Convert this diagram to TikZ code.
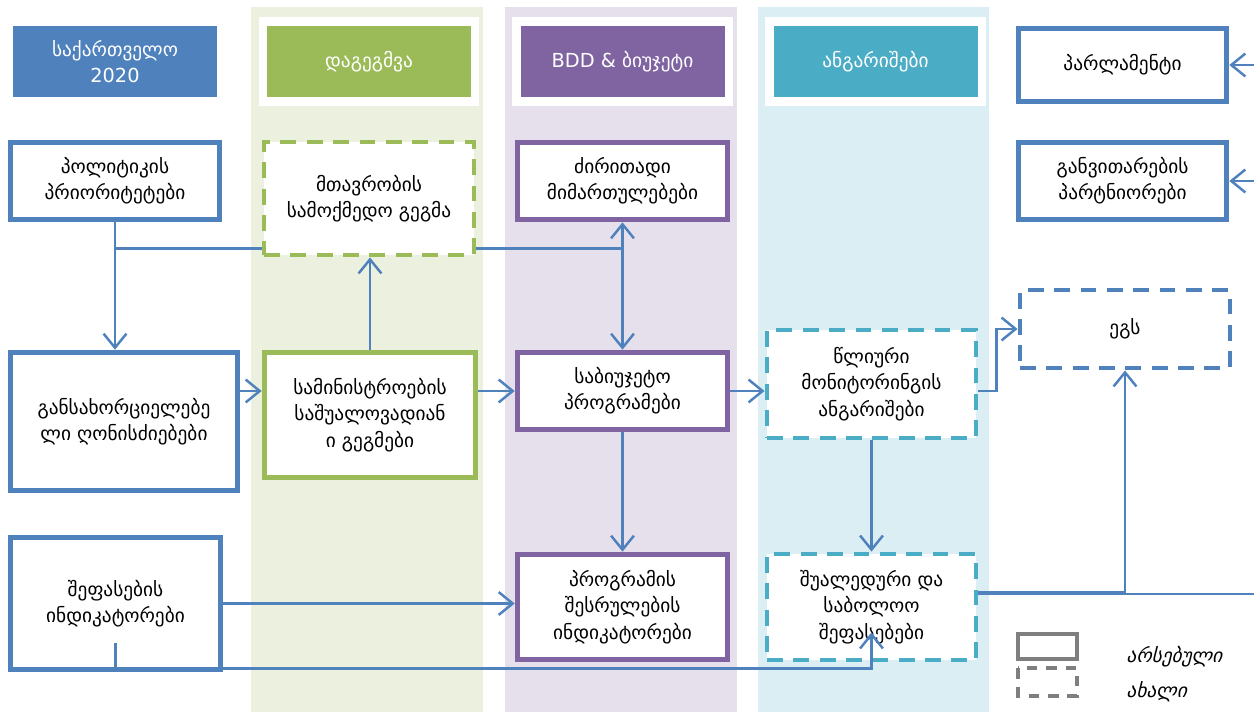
\documentclass[tikz,border=0pt]{standalone}
\usepackage{fontspec}
\setmainfont{DejaVu Sans}
\newfontfamily\legendfont{DejaVu Sans}[FakeSlant=0.25]
\usetikzlibrary{arrows.meta,calc}

\definecolor{geoblue}{HTML}{4F81BD}
\definecolor{plangreen}{HTML}{9BBB59}
\definecolor{budgetpurple}{HTML}{8064A2}
\definecolor{reportcyan}{HTML}{4BACC6}
\definecolor{planbg}{HTML}{EBF1DE}
\definecolor{budgetbg}{HTML}{E5E0EC}
\definecolor{reportbg}{HTML}{DAEEF3}
\definecolor{legendgray}{HTML}{7F7F7F}

\tikzset{
  boxsize/.style 2 args={minimum width=#1*0.02cm, minimum height=#2*0.02cm},
  block/.style={rectangle, fill=white, align=center, inner sep=2pt,
    font=\fontsize{11}{15}\selectfont},
  oldbox/.style={block, draw=#1, line width=3.2pt},
  newbox/.style={block, draw=#1, line width=2.8pt, dash pattern=on 9pt off 6pt},
  header/.style={rectangle, fill=#1, text=white, align=center, boxsize={204}{71},
    font=\fontsize{11}{15}\selectfont},
  link/.style={draw=geoblue, line width=1.4pt, -{Straight Barb[length=8pt,width=13pt]}},
  wire/.style={draw=geoblue, line width=1.4pt},
  legendtext/.style={anchor=west, font=\legendfont\fontsize{11}{13}\selectfont}
}

\begin{document}
\begin{tikzpicture}[x=0.02cm, y=-0.02cm]
  \useasboundingbox (0,0) rectangle (1254,712);

  % Columns
  \fill[planbg] (251,7) rectangle (483,712);
  \fill[budgetbg] (505,7) rectangle (737,712);
  \fill[reportbg] (758,7) rectangle (989,712);
  \fill[white] (259,17) rectangle (479,106);
  \fill[white] (512,17) rectangle (733,106);
  \fill[white] (765,17) rectangle (986,106);

  % Headers
  \node[header=geoblue] (hgeo) at (115,61.5) {საქართველო\\2020};
  \node[header=plangreen] (hplan) at (369,61.5) {დაგეგმვა};
  \node[header=budgetpurple] (hbudget) at (622.5,61.5) {BDD \& ბიუჯეტი};
  \node[header=reportcyan] (hreport) at (875.5,61.5) {ანგარიშები};

  % Blocks
  \node[oldbox=geoblue, boxsize={208}{73}] (parl) at (1122.5,65) {პარლამენტი};
  \node[oldbox=geoblue, boxsize={208}{77}] (partners) at (1122.5,181) {განვითარების\\პარტნიორები};
  \node[oldbox=geoblue, boxsize={209}{77}] (policy) at (115,181) {პოლიტიკის\\პრიორიტეტები};
  \node[newbox=plangreen, boxsize={210}{113}] (action) at (369,198.5) {მთავრობის\\სამოქმედო გეგმა};
  \node[oldbox=budgetpurple, boxsize={210}{77}] (directions) at (622.5,181) {ძირითადი\\მიმართულებები};
  \node[oldbox=geoblue, boxsize={227}{138}] (measures) at (124,421.5) {განსახორციელებე\\ლი ღონისძიებები};
  \node[oldbox=plangreen, boxsize={211}{125}] (ministries) at (370,415) {სამინისტროების\\საშუალოვადიან\\ი გეგმები};
  \node[oldbox=budgetpurple, boxsize={210}{77}] (programs) at (622.5,391) {საბიუჯეტო\\პროგრამები};
  \node[newbox=reportcyan, boxsize={209}{108}] (monitoring) at (871.5,384) {წლიური\\მონიტორინგის\\ანგარიშები};
  \node[newbox=geoblue, boxsize={210}{78}] (egs) at (1125,329) {ეგს};
  \node[oldbox=geoblue, boxsize={210}{132}] (evalind) at (115.5,603.5) {შეფასების\\ინდიკატორები};
  \node[oldbox=budgetpurple, boxsize={210}{105}] (progind) at (622.5,607) {პროგრამის\\შესრულების\\ინდიკატორები};
  \node[newbox=reportcyan, boxsize={209}{106}] (interim) at (871.5,607) {შუალედური და\\საბოლოო\\შეფასებები};

  % Free ends
  \coordinate (parlin) at (1254,65);
  \coordinate (partin) at (1254,181);
  \coordinate (edgeE) at (1254,594);
  \coordinate (fork) at ($(policy.south)+(0,26)$);

  % Connections
  \draw[link] (parlin) -- (parl.east);
  \draw[link] (partin) -- (partners.east);
  \draw[link] (policy.south) -- (policy.south |- measures.north);
  \draw[wire] (fork) -- (fork -| action.west);
  \draw[wire] (fork -| action.east) -- (fork -| directions.south);
  \draw[link] (fork -| directions.south) -- (directions.south);
  \draw[link] (fork -| directions.south) -- (programs.north);
  \draw[link] (measures.east |- programs) -- (ministries.west |- programs);
  \draw[link] (ministries.north) -- (ministries.north |- action.south);
  \draw[link] (ministries.east |- programs) -- (programs.west);
  \draw[link] (programs.east) -- (monitoring.west |- programs);
  \draw[link] (monitoring.east |- programs) -- ++(18,0) |- (egs.west);
  \draw[link] (programs.south) -- (progind.north);
  \draw[link] (monitoring.south) -- (interim.north);
  \draw[link] (evalind.east) -- (progind.west |- evalind.east);
  \draw[link] ($(evalind.south)+(0,-29)$) -- ($(evalind.south)+(0,-4)$) -| ($(interim.south)+(0,-30)$);
  \draw[wire] (edgeE) -- (interim.east |- edgeE);
  \draw[link] ($(interim.east |- edgeE)+(0,-2)$) -| (egs.south);

  % Legend
  \draw[legendgray, line width=2.8pt] (1018,634) rectangle (1077,659);
  \draw[legendgray, line width=2.8pt, dash pattern=on 6pt off 5pt] (1018,668) rectangle (1077,696);
  \node[legendtext] (lgold) at (1120,657) {არსებული};
  \node[legendtext] (lgnew) at (1120,692) {ახალი};
\end{tikzpicture}
\end{document}
